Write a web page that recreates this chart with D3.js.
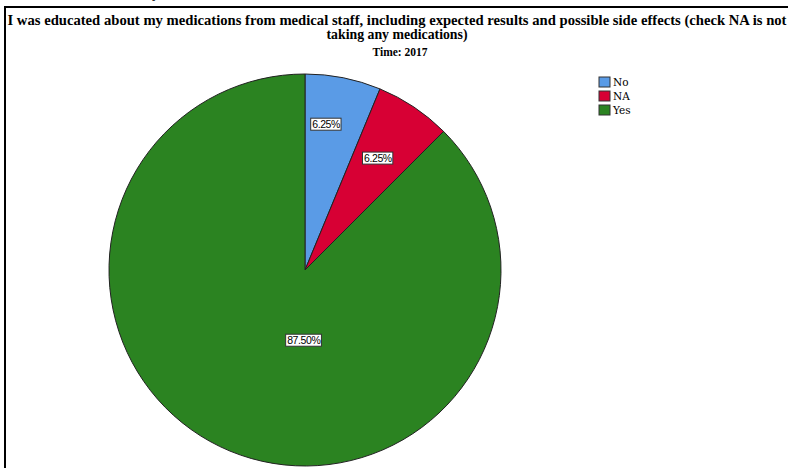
<!DOCTYPE html>
<html>
<head>
<meta charset="utf-8">
<script src="https://cdn.jsdelivr.net/npm/d3@7"></script>
<style>
  html, body { margin: 0; padding: 0; background: #fff; }
  svg { display: block; }
</style>
</head>
<body>
<svg id="chart" width="788" height="468"></svg>
<script>
// ---- data ----
const categories = ["No", "NA", "Yes"];
const percents = [6.25, 6.25, 87.5];
const percentLabels = ["6.25%", "6.25%", "87.50%"];
const titleLines = [
  "I was educated about my medications from medical staff, including expected results and possible side effects (check NA is not",
  "taking any medications)"
];
const subtitle = "Time: 2017";

// ---- styles / layout ----
const colors = ["#5a9be6", "#d70034", "#2b8321"];
const cx = 305, cy = 270, R = 196;
const titleWidths = [779, 141];
// label placement (angle offset in degrees, radius fraction) per slice
const labelAngleShift = [-3, -0.6, -21.5];
const labelRadiusFrac = [0.75, 0.68, 0.36];

const svg = d3.select("#chart");

// frame
svg.append("rect")
  .attr("x", 5).attr("y", 7).attr("width", 820).attr("height", 520)
  .attr("fill", "none").attr("stroke", "#000").attr("stroke-width", 2);

// partially visible text above frame
svg.append("text").attr("x", 152).attr("y", -3)
  .attr("font-family", "Liberation Serif").attr("font-size", 16).text("y");

// titles
svg.selectAll("text.title").data(titleLines).join("text")
  .attr("class", "title")
  .attr("x", 397).attr("y", (d, i) => 25 + i * 14)
  .attr("text-anchor", "middle")
  .attr("font-family", "Liberation Serif")
  .attr("font-weight", "bold")
  .attr("font-size", 14)
  .attr("textLength", (d, i) => titleWidths[i])
  .attr("lengthAdjust", "spacingAndGlyphs")
  .text(d => d);

svg.append("text")
  .attr("x", 400).attr("y", 56)
  .attr("text-anchor", "middle")
  .attr("font-family", "Liberation Serif")
  .attr("font-weight", "bold")
  .attr("font-size", 11.5)
  .text(subtitle);

// pie
const pie = d3.pie().sort(null).value(d => d);
const arcs = pie(percents);
const arc = d3.arc().innerRadius(0).outerRadius(R);

const g = svg.append("g").attr("transform", `translate(${cx},${cy})`);
g.selectAll("path").data(arcs).join("path")
  .attr("d", arc)
  .attr("fill", (d, i) => colors[i])
  .attr("stroke", "#222")
  .attr("stroke-width", 1);

// labels
const lab = g.selectAll("g.lab").data(arcs).join("g").attr("class", "lab")
  .attr("transform", (d, i) => {
    const a = (d.startAngle + d.endAngle) / 2 + labelAngleShift[i] * Math.PI / 180;
    const r = R * labelRadiusFrac[i];
    return `translate(${r * Math.sin(a)},${-r * Math.cos(a)})`;
  });
lab.append("text")
  .attr("text-anchor", "middle")
  .attr("dy", "0.35em")
  .attr("font-family", "Liberation Sans")
  .attr("font-size", 10.5)
  .attr("letter-spacing", -0.4)
  .attr("fill", "#000")
  .text((d, i) => percentLabels[i]);
lab.each(function() {
  const t = d3.select(this).select("text");
  const b = t.node().getBBox();
  d3.select(this).insert("rect", "text")
    .attr("x", b.x - 1.5).attr("y", b.y)
    .attr("width", b.width + 2.5).attr("height", b.height)
    .attr("fill", "#fff").attr("stroke", "#333").attr("stroke-width", 1);
});

// legend
const leg = svg.append("g").attr("transform", "translate(599,77)");
const li = leg.selectAll("g").data(categories).join("g")
  .attr("transform", (d, i) => `translate(0,${i * 14})`);
li.append("rect").attr("width", 11).attr("height", 10)
  .attr("fill", (d, i) => colors[i]).attr("stroke", "#333").attr("stroke-width", 1);
li.append("text").attr("x", 14).attr("y", 9)
  .attr("font-family", "DejaVu Serif").attr("font-size", 10.5)
  .text(d => d);
</script>
</body>
</html>
